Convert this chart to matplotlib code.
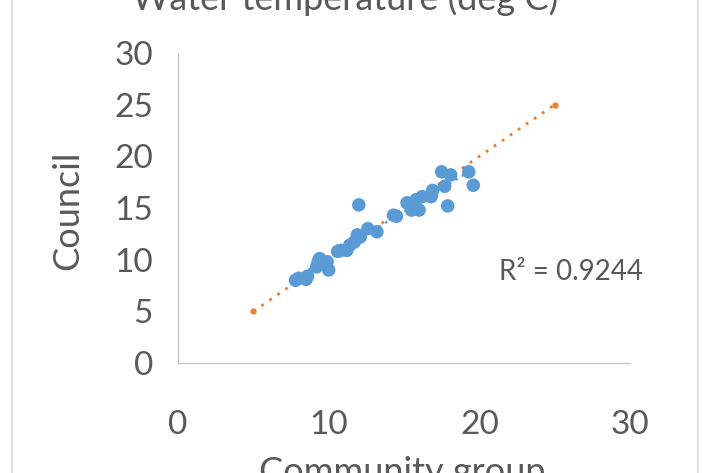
import numpy as np
import matplotlib.pyplot as plt
from matplotlib.lines import Line2D

# water temperature readings (deg C)
community = [7.8, 8.0, 8.5, 8.6, 9.2, 9.3, 9.4, 9.9, 10.0, 10.6, 10.8, 11.2,
             11.4, 11.7, 11.9, 12.0, 12.1, 12.6, 13.2, 14.3, 14.5, 15.2, 15.5,
             15.8, 16.0, 16.2, 16.8, 16.9, 17.5, 17.7, 17.9, 18.1, 19.3, 19.6]
council = [8.0, 8.2, 8.1, 8.4, 9.3, 9.8, 10.1, 9.8, 9.0, 10.8, 10.9, 10.9,
           11.4, 11.7, 12.4, 15.3, 12.2, 13.0, 12.7, 14.3, 14.2, 15.5, 14.8,
           15.8, 14.8, 16.1, 16.1, 16.7, 18.5, 17.1, 15.2, 18.2, 18.5, 17.2]
one_to_one = [5, 25]
r2_label = "R² = 0.9244"

grey = '#595959'
blue = '#5B9BD5'
orange = '#ED7D31'
plt.rcParams['font.family'] = ['Lato', 'DejaVu Sans']

fig = plt.figure(figsize=(7.1, 4.73), dpi=100)
ax = fig.add_axes([178/710, 1 - 363/473, 452/710, 310/473])

ax.scatter(community, council, s=95, color=blue, edgecolors='none', zorder=3)

# linear trendline over the data range
k, b = np.polyfit(community, council, 1)
xs = np.array([min(community), max(community)])
ax.plot(xs, k*xs + b, linestyle=(0, (1, 2)), color=blue, lw=1.8, zorder=2)

# 1:1 line
ax.plot(one_to_one, one_to_one, linestyle=(0, (1, 2.5)), color=orange, lw=2,
        marker='o', markersize=3.5, zorder=1)

ax.text(21.3, 8.8, r2_label, fontsize=20, color=grey, va='center')

ax.set_xlim(0, 30)
ax.set_ylim(0, 30)
ax.set_xticks([0, 10, 20, 30])
ax.set_yticks([0, 5, 10, 15, 20, 25, 30])
ax.tick_params(length=0, labelsize=24, labelcolor=grey)
ax.tick_params(axis='y', pad=18)
ax.tick_params(axis='x', pad=34)
for s in ['top', 'right']:
    ax.spines[s].set_visible(False)
for s in ['left', 'bottom']:
    ax.spines[s].set_color('#c8c8c8')
    ax.spines[s].set_linewidth(1)

fig.text(345/710, 1 - 10/473, "Water temperature (deg C)", fontsize=26,
         color=grey, ha='center', va='baseline')
fig.text(68/710, 1 - 210/473, "Council", fontsize=26, color=grey,
         rotation=90, ha='center', va='center')
fig.text(402/710, 1 - 483/473, "Community group", fontsize=26, color=grey,
         ha='center', va='baseline')

# chart border
for xp in [12, 698]:
    fig.add_artist(Line2D([xp/710, xp/710], [0, 1], color='#d9d9d9', lw=1.2))

fig.savefig('out.png', dpi=100)
